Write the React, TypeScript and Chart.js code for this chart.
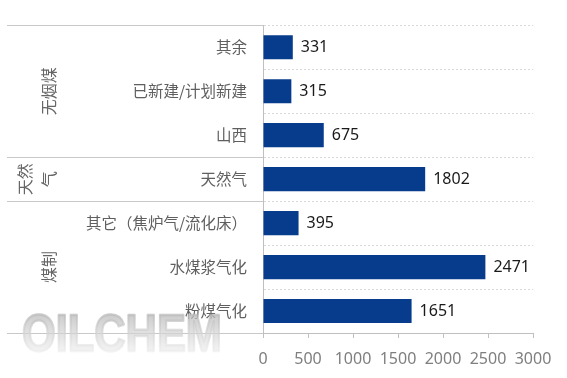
import React, { useEffect, useRef } from 'react';
import { Chart, registerables } from 'chart.js';

Chart.register(...registerables);

const categories = ['其余', '已新建/计划新建', '山西', '天然气', '其它（焦炉气/流化床）', '水煤浆气化', '粉煤气化'];
const values = [331, 315, 675, 1802, 395, 2471, 1651];
const groupNames = [['无烟煤'], ['天然', '气'], ['煤制']];
const groupStarts = [0, 3, 4];
const groupEnds = [2, 3, 6];
const xMin = 0;
const xMax = 3000;
const xStep = 500;
const watermark = 'OILCHEM';

const FONT = "'Noto Sans', 'Noto Sans CJK SC', sans-serif";
const CJK = "'Noto Sans CJK SC', 'Noto Sans', sans-serif";

const overlayPlugin = {
  id: 'overlay',
  afterDraw(chart: any) {
    const { ctx, chartArea, scales } = chart;
    const y = scales.y;
    const n = categories.length;
    const band = (chartArea.bottom - chartArea.top) / n;
    const align = (v: number) => Math.floor(v) + 0.5;
    ctx.save();
    // left separator lines
    ctx.strokeStyle = '#c8c8c8';
    ctx.lineWidth = 1;
    const leftX = 7;
    const ys = [chartArea.top];
    groupEnds.forEach((e) => ys.push(y.getPixelForValue(e) + band / 2));
    ys.forEach((yy) => {
      ctx.beginPath();
      ctx.moveTo(leftX, align(yy));
      ctx.lineTo(chartArea.left, align(yy));
      ctx.stroke();
    });
    // group labels
    ctx.fillStyle = '#666666';
    ctx.font = `16px ${CJK}`;
    ctx.textAlign = 'center';
    ctx.textBaseline = 'middle';
    groupNames.forEach((lines, gi) => {
      const top = y.getPixelForValue(groupStarts[gi]) - band / 2;
      const bot = y.getPixelForValue(groupEnds[gi]) + band / 2;
      const cy = (top + bot) / 2;
      const lastX = 49;
      lines.forEach((txt, li) => {
        const cx = lastX - (lines.length - 1 - li) * 24;
        ctx.save();
        ctx.translate(cx, cy);
        ctx.rotate(-Math.PI / 2);
        ctx.fillText(txt, 0, 0);
        ctx.restore();
      });
    });
    // data labels
    const meta = chart.getDatasetMeta(0);
    ctx.fillStyle = '#1a1a1a';
    ctx.font = `16px ${FONT}`;
    ctx.textAlign = 'left';
    meta.data.forEach((bar: any, i: number) => {
      ctx.fillText(String(values[i]), bar.x + 8, bar.y);
    });
    // watermark
    ctx.font = `bold 54px 'Liberation Sans', sans-serif`;
    ctx.textBaseline = 'alphabetic';
    const w = ctx.measureText(watermark).width;
    const targetW = 200;
    const wx = 22;
    const wyBottom = 351;
    const wyTop = 314;
    const capH = 54 * 0.716;
    const sy = (wyBottom - wyTop) / capH;
    ctx.translate(wx, wyBottom);
    ctx.scale(targetW / w, sy);
    const g = ctx.createLinearGradient(0, -capH, 0, 0);
    g.addColorStop(0, 'rgba(185,185,185,0.75)');
    g.addColorStop(1, 'rgba(235,235,235,0.6)');
    ctx.fillStyle = g;
    ctx.strokeStyle = g;
    ctx.lineWidth = 2.5;
    ctx.lineJoin = 'round';
    ctx.strokeText(watermark, 0, 0);
    ctx.fillText(watermark, 0, 0);
    ctx.restore();
  },
};

export default function App() {
  const ref = useRef<HTMLCanvasElement>(null);
  useEffect(() => {
    if (!ref.current) return;
    const chart = new Chart(ref.current, {
      type: 'bar',
      data: {
        labels: categories,
        datasets: [
          {
            data: values,
            backgroundColor: '#073b8c',
            barPercentage: 0.55,
            categoryPercentage: 1,
          },
        ],
      },
      options: {
        indexAxis: 'y',
        responsive: false,
        animation: false,
        devicePixelRatio: 1,
        layout: { padding: { left: 0, right: 34, top: 14, bottom: 0 } },
        plugins: { legend: { display: false }, tooltip: { enabled: false } },
        scales: {
          x: {
            min: xMin,
            max: xMax,
            ticks: {
              stepSize: xStep,
              color: '#7f7f7f',
              font: { size: 16, family: FONT },
              padding: 12,
              maxRotation: 0,
              callback: (v: any) => String(v),
            },
            grid: { drawOnChartArea: false, drawTicks: true, tickLength: 5, color: '#bfbfbf' },
            border: { display: true, color: '#bfbfbf', width: 1 },
            afterFit: (s: any) => {
              s.height = 45;
            },
          },
          y: {
            ticks: { color: '#5f5f5f', font: { size: 15.5, family: CJK }, padding: 16, autoSkip: false },
            grid: { offset: true, drawTicks: false, color: '#d9d9d9' },
            border: { display: true, color: '#bfbfbf', width: 1, dash: [2, 2] },
            afterFit: (s: any) => {
              s.width = 263;
            },
          },
        },
      },
      plugins: [overlayPlugin],
    } as any);
    return () => chart.destroy();
  }, []);
  return (
    <div style={{ position: 'absolute', left: 0, top: 0, width: 567, height: 378, background: '#fff' }}>
      <canvas ref={ref} width={567} height={378} style={{ display: 'block' }} />
    </div>
  );
}
